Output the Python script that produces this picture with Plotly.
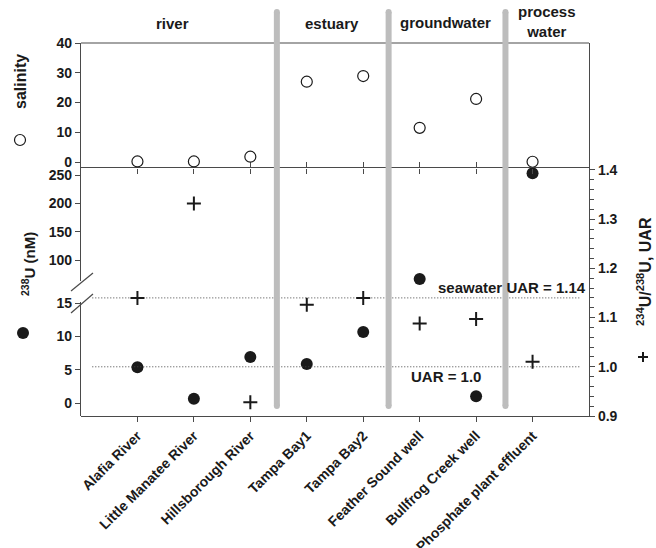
import plotly.graph_objects as go

# ---------------- data ----------------
sites = ["Alafia River", "Little Manatee River", "Hillsborough River", "Tampa Bay1",
         "Tampa Bay2", "Feather Sound well", "Bullfrog Creek well", "Phosphate plant effluent"]
salinity = [0.2, 0.2, 1.8, 27.0, 28.9, 11.5, 21.2, 0.1]
u238_nM = [5.35, 0.65, 6.9, 5.85, 10.65, 66.5, 1.0, 253.0]
uar = [1.14, 1.332, 0.928, 1.126, 1.14, 1.088, 1.097, 1.01]
group_names = ["river", "estuary", "groundwater", "process<br>water"]
ref_uar = [1.14, 1.0]
ref_labels = ["seawater UAR = 1.14", "UAR = 1.0"]
sal_ticks = [0, 10, 20, 30, 40]
u_low_ticks = [0, 5, 10, 15]
u_high_ticks = [100, 150, 200, 250]
uar_ticks = [0.9, 1.0, 1.1, 1.2, 1.3, 1.4]

# ---------------- layout helpers (pixels -> paper) ----------------
W, H = 656, 548
L, R, T, B = 81, 589, 43, 416
def fx(px):
    return (px - L) / (R - L)
def fy(py):
    return (B - py) / (B - T)

FONT = "Liberation Sans, Arial, sans-serif"
INK = "#1a1a1a"
AX = "#4a4a4a"

xs = list(range(len(sites)))
low_x = [x for x, v in zip(xs, u238_nM) if v < 40]
low_y = [v for v in u238_nM if v < 40]
high_x = [x for x, v in zip(xs, u238_nM) if v >= 40]
high_y = [v for v in u238_nM if v >= 40]

fig = go.Figure()
fig.add_trace(go.Scatter(x=xs, y=salinity, xaxis="x2", yaxis="y4", mode="markers",
                         marker=dict(symbol="circle", size=11, color="white",
                                     line=dict(color=INK, width=1.2)),
                         cliponaxis=False, showlegend=False))
fig.add_trace(go.Scatter(x=low_x, y=low_y, xaxis="x", yaxis="y", mode="markers",
                         marker=dict(symbol="circle", size=12, color=INK),
                         cliponaxis=False, showlegend=False))
fig.add_trace(go.Scatter(x=high_x, y=high_y, xaxis="x", yaxis="y2", mode="markers",
                         marker=dict(symbol="circle", size=12, color=INK),
                         cliponaxis=False, showlegend=False))
fig.add_trace(go.Scatter(x=xs, y=uar, xaxis="x", yaxis="y3", mode="markers",
                         marker=dict(symbol="cross-thin", size=10,
                                     line=dict(color=INK, width=2)),
                         cliponaxis=False, showlegend=False))

tickfont = dict(family=FONT, size=14, color=INK, weight="bold")
common_y = dict(showline=True, linecolor=AX, linewidth=1.2, ticks="outside", ticklen=5,
                tickcolor=AX, tickwidth=1.2, showgrid=False, zeroline=False,
                tickfont=tickfont, automargin=False)

xr = [-1, 8]
fig.update_layout(
    width=W, height=H,
    margin=dict(l=L, r=W - R, t=T, b=H - B, autoexpand=False),
    paper_bgcolor="white", plot_bgcolor="rgba(0,0,0,0)",
    xaxis=dict(domain=[0, 1], range=xr, anchor="y3", tickvals=xs, ticktext=sites,
               tickangle=-45, showline=True, linecolor=AX, linewidth=1.2, mirror="ticks",
               ticks="outside", ticklen=5, tickcolor=AX, tickwidth=1.2,
               showgrid=False, zeroline=False, automargin=False,
               tickfont=dict(family=FONT, size=14, color=INK, weight="bold")),
    xaxis2=dict(domain=[0, 1], range=xr, anchor="y4", tickvals=xs, showticklabels=False,
                showline=False, ticks="outside", ticklen=5, tickcolor=AX, tickwidth=1.2,
                showgrid=False, zeroline=False, automargin=False),
    yaxis=dict(domain=[0, fy(302)], range=[-1.95, 15.15], tickvals=u_low_ticks,
               anchor="x", **common_y),
    yaxis2=dict(domain=[fy(281), fy(168)], range=[62.95, 262.35], tickvals=u_high_ticks,
                anchor="x", **common_y),
    yaxis3=dict(domain=[0, fy(168)], range=[0.9, 1.404], tickvals=uar_ticks,
                tickformat=".1f", side="right", anchor="x",
                minor=dict(dtick=0.02, tick0=0.9, ticks="outside", ticklen=4,
                           tickcolor=AX, tickwidth=1),
                **common_y),
    yaxis4=dict(domain=[fy(168), 1], range=[-2, 40], tickvals=sal_ticks, anchor="x2",
                mirror=True, **common_y),
)

shapes = []
# top border of the salinity panel
shapes.append(dict(type="line", xref="paper", yref="paper", x0=0, x1=1, y0=1, y1=1,
                   line=dict(color=AX, width=1.2)))
# reference dotted lines
for v in ref_uar:
    shapes.append(dict(type="line", xref="x", yref="y3", x0=-0.8, x1=7.85, y0=v, y1=v,
                       line=dict(color="#444444", width=1, dash="1px,2px"), layer="below"))
# gray group separators
for sx in [2.47, 4.45, 6.52]:
    shapes.append(dict(type="line", xref="x", yref="paper", x0=sx, x1=sx,
                       y0=fy(406), y1=fy(12), line=dict(color="#bdbdbd", width=6)))
    for py in (406, 12):
        shapes.append(dict(type="circle", xref="x", yref="paper", xsizemode="pixel",
                           ysizemode="pixel", xanchor=sx, yanchor=fy(py),
                           x0=-3, x1=3, y0=-3, y1=3,
                           fillcolor="#bdbdbd", line=dict(width=0)))
# axis break slashes
for (x0, y0, x1, y1) in [(71, 291, 93, 273), (71, 313, 93, 294)]:
    shapes.append(dict(type="line", xref="paper", yref="paper", x0=fx(x0), y0=fy(y0),
                       x1=fx(x1), y1=fy(y1), line=dict(color=AX, width=1.2)))
# legend-like symbols next to axis titles
shapes.append(dict(type="circle", xref="paper", yref="paper", xsizemode="pixel",
                   ysizemode="pixel", xanchor=fx(20), yanchor=fy(140),
                   x0=-5.5, x1=5.5, y0=-5.5, y1=5.5, fillcolor="white",
                   line=dict(color=INK, width=1.2)))
shapes.append(dict(type="circle", xref="paper", yref="paper", xsizemode="pixel",
                   ysizemode="pixel", xanchor=fx(23), yanchor=fy(333),
                   x0=-6, x1=6, y0=-6, y1=6, fillcolor=INK, line=dict(width=0)))
for (a, b, c, d) in [(-5, 0, 5, 0), (0, -5, 0, 5)]:
    shapes.append(dict(type="line", xref="paper", yref="paper", xsizemode="pixel",
                       ysizemode="pixel", xanchor=fx(643), yanchor=fy(357),
                       x0=a, y0=b, x1=c, y1=d, line=dict(color=INK, width=2)))
fig.update_layout(shapes=shapes)

ann = []
bold15 = dict(family=FONT, size=15, color=INK, weight="bold")
bold16 = dict(family=FONT, size=16, color=INK, weight="bold")
# group labels
for name, (gx, gy) in zip(group_names, [(172, 24), (332, 24), (445.5, 23), (546.7, 22)]):
    ann.append(dict(text=name, xref="paper", yref="paper", x=fx(gx), y=fy(gy),
                    xanchor="center", yanchor="middle", showarrow=False, font=bold15))
# reference line labels
ann.append(dict(text=ref_labels[0], xref="paper", yref="y3", x=fx(588), y=ref_uar[0],
                xanchor="right", yanchor="middle", yshift=10, showarrow=False, font=bold15))
ann.append(dict(text=ref_labels[1], xref="paper", yref="y3", x=fx(409), y=ref_uar[1],
                xanchor="left", yanchor="middle", yshift=-10, showarrow=False, font=bold15))
# axis titles
ann.append(dict(text="salinity", xref="paper", yref="paper", x=fx(21), y=fy(82),
                textangle=-90, xanchor="center", yanchor="middle", showarrow=False,
                font=bold16))
ann.append(dict(text="<sup>238</sup>U (nM)", xref="paper", yref="paper", x=fx(28), y=fy(264),
                textangle=-90, xanchor="center", yanchor="middle", showarrow=False,
                font=dict(family=FONT, size=15, color=INK, weight="bold")))
ann.append(dict(text="<sup>234</sup>U/<sup>238</sup>U, UAR", xref="paper", yref="paper",
                x=fx(644), y=fy(272), textangle=-90, xanchor="center", yanchor="middle",
                showarrow=False, font=bold16))
fig.update_layout(annotations=ann)

fig.write_html("out.html")
